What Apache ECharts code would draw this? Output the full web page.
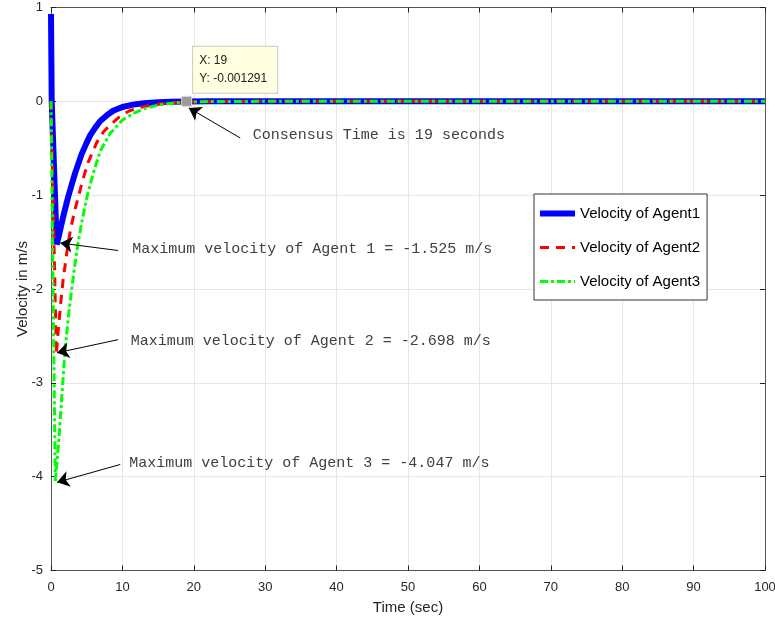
<!DOCTYPE html>
<html>
<head>
<meta charset="utf-8">
<script src="https://cdn.jsdelivr.net/npm/echarts@6/dist/echarts.min.js"></script>
<style>
  html, body { margin: 0; padding: 0; background: #fff; }
  #main { width: 775px; height: 623px; }
</style>
</head>
<body>
<div id="main"></div>
<script>
// values
var agent1Time = [0, 0.1, 0.8, 1.2, 1.8, 2.4, 3, 3.4, 4.3, 5, 5.5, 6.2, 6.9, 7.8, 8.7, 10, 11.5, 13, 15, 17, 19, 22, 30, 100];
var agent1Vel  = [0.93, 0, -1.525, -1.4, -1.2, -1.02, -0.86, -0.76, -0.56, -0.44, -0.36, -0.28, -0.21, -0.15, -0.1, -0.06, -0.035, -0.02, -0.009, -0.004, -0.0013, -0.0004, 0, 0];
var agent2Time = [0, 0.75, 1.0, 1.4, 1.7, 2.2, 2.7, 3.3, 3.9, 4.4, 5.2, 6.4, 7.3, 8.3, 9.5, 11, 12.5, 14, 17, 20, 25, 30, 100];
var agent2Vel  = [0, -2.698, -2.45, -2.12, -1.9, -1.62, -1.38, -1.17, -1.0, -0.85, -0.65, -0.44, -0.33, -0.25, -0.17, -0.1, -0.065, -0.04, -0.014, -0.005, -0.001, 0, 0];
var agent3Time = [0, 0.6, 0.9, 1.2, 1.6, 2.0, 2.5, 2.9, 3.3, 3.7, 4.4, 5.1, 5.9, 6.9, 8.3, 10, 11.5, 13, 15, 17, 19, 22, 30, 100];
var agent3Vel  = [0, -4.047, -3.8, -3.5, -3.05, -2.62, -2.25, -2.0, -1.77, -1.55, -1.25, -1.0, -0.77, -0.53, -0.34, -0.2, -0.13, -0.08, -0.04, -0.02, -0.008, -0.003, 0, 0];
var names = ['Velocity of Agent1', 'Velocity of Agent2', 'Velocity of Agent3'];
var consensusT = 19, consensusV = -0.001291;

function pairs(t, v) {
    var out = [];
    for (var i = 0; i < t.length; i++) out.push([t[i], v[i]]);
    return out;
}

var monoFont = 'Liberation Mono';
var noteColor = '#404040';

// annotation text and arrows, in data units
var notes = [
    { at: [11.3, -1.57], text: 'Maximum velocity of Agent 1 = -1.525 m/s' },
    { at: [11.1, -2.55], text: 'Maximum velocity of Agent 2 = -2.698 m/s' },
    { at: [10.9, -3.86], text: 'Maximum velocity of Agent 3 = -4.047 m/s' },
    { at: [28.2, -0.36], text: 'Consensus Time is 19 seconds' }
];
var arrows = [
    [[9.4, -1.59], [1.3, -1.51]],
    [[9.4, -2.54], [0.85, -2.68]],
    [[9.7, -3.87], [0.85, -4.06]],
    [[26.5, -0.39], [19.3, -0.07]]
];

var chart = echarts.init(document.getElementById('main'));

var axisCol = '#555';
var labelCol = '#262626';

var markPts = notes.map(function (n) {
    return {
        coord: n.at, symbol: 'rect', symbolSize: 1,
        itemStyle: { color: 'rgba(0,0,0,0)' },
        label: {
            show: true, position: 'right', distance: 0, formatter: n.text,
            fontFamily: monoFont, fontSize: 15, color: noteColor
        }
    };
});
markPts.push({
    coord: [consensusT, 0], symbol: 'rect', symbolSize: 10,
    itemStyle: { color: '#9a9a9a', borderColor: '#ddd', borderWidth: 1 },
    label: {
        show: true, position: [12, -49],
        formatter: 'X: ' + consensusT + '\nY: ' + consensusV,
        fontFamily: 'Liberation Sans', fontSize: 12, color: '#222', lineHeight: 18,
        backgroundColor: '#ffffe1', borderColor: '#c8c8c8', borderWidth: 1,
        padding: [5, 10, 5, 6]
    }
});

var tickStyle = { inside: true, length: 5, lineStyle: { color: '#222' } };

var option = {
    animation: false,
    textStyle: { fontFamily: 'Liberation Sans' },
    grid: { left: 51, right: 10, top: 7.5, bottom: 52.5, outerBoundsMode: 'none' },
    legend: {
        data: names,
        orient: 'vertical',
        left: 534, top: 194,
        padding: [12, 7, 11, 3],
        itemGap: 19, itemWidth: 35, itemHeight: 14,
        itemStyle: { opacity: 0 },
        lineStyle: { width: 'inherit' },
        backgroundColor: '#fff', borderColor: '#333', borderWidth: 1,
        textStyle: { fontSize: 15, color: '#000' }
    },
    xAxis: [{
        type: 'value', min: 0, max: 100, interval: 10,
        name: 'Time (sec)', nameLocation: 'middle', nameGap: 30, nameMoveOverlap: false,
        nameTextStyle: { fontSize: 15, color: labelCol },
        axisLine: { onZero: false, lineStyle: { color: axisCol } },
        axisTick: tickStyle,
        axisLabel: { color: labelCol, fontSize: 13, margin: 10 },
        splitLine: { lineStyle: { color: '#e6e6e6' } }
    }, {
        type: 'value', min: 0, max: 100, interval: 10, position: 'top',
        axisLine: { onZero: false, lineStyle: { color: axisCol } },
        axisTick: tickStyle,
        axisLabel: { show: false }, splitLine: { show: false }
    }],
    yAxis: [{
        type: 'value', min: -5, max: 1, interval: 1,
        name: 'Velocity in m/s', nameLocation: 'middle', nameGap: 21, nameMoveOverlap: false,
        nameTextStyle: { fontSize: 15, color: labelCol },
        axisLine: { onZero: false, lineStyle: { color: axisCol } },
        axisTick: tickStyle,
        axisLabel: { color: labelCol, fontSize: 13, margin: 8 },
        splitLine: { lineStyle: { color: '#e6e6e6' } }
    }, {
        type: 'value', min: -5, max: 1, interval: 1, position: 'right',
        axisLine: { show: true, onZero: false, lineStyle: { color: axisCol } },
        axisTick: { show: true, inside: true, length: 5, lineStyle: { color: '#222' } },
        axisLabel: { show: false }, splitLine: { show: false }
    }],
    series: [{
        name: names[0], type: 'line', symbol: 'none',
        data: pairs(agent1Time, agent1Vel),
        lineStyle: { color: '#0000ff', width: 6 },
        itemStyle: { color: '#0000ff' }, z: 2
    }, {
        name: names[1], type: 'line', symbol: 'none',
        data: pairs(agent2Time, agent2Vel),
        lineStyle: { color: '#ff0000', width: 3, type: [9, 7] },
        itemStyle: { color: '#ff0000' }, z: 3
    }, {
        name: names[2], type: 'line', symbol: 'none',
        data: pairs(agent3Time, agent3Vel),
        lineStyle: { color: '#00ff00', width: 3, type: [8, 3, 3, 3] },
        itemStyle: { color: '#00ff00' }, z: 4
    }, {
        name: 'notes', type: 'line', data: [], z: 10,
        markLine: {
            silent: true, symbol: ['none', 'arrow'], symbolSize: 12,
            lineStyle: { color: '#000', width: 1, type: 'solid' },
            label: { show: false },
            data: arrows.map(function (a) { return [{ coord: a[0] }, { coord: a[1] }]; })
        },
        markPoint: { silent: true, data: markPts }
    }]
};

chart.setOption(option);
</script>
</body>
</html>
